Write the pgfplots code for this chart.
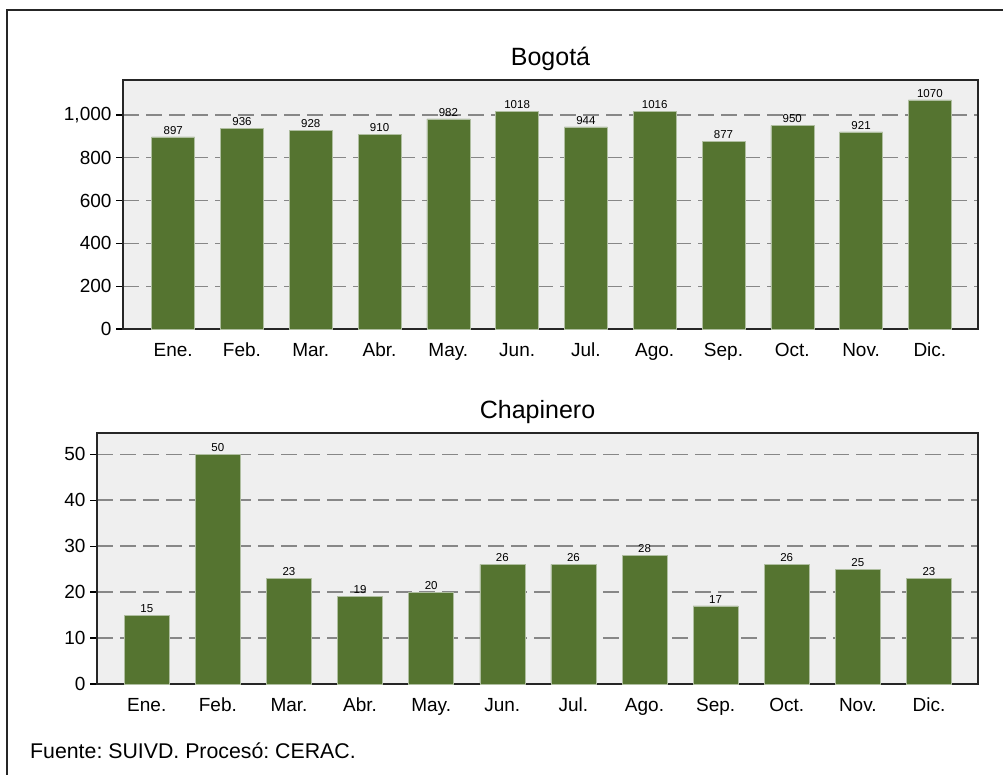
\documentclass[border=0pt]{standalone}
\usepackage{fontspec}
\setmainfont{Liberation Sans}
\usepackage{pgfplots}
\pgfplotsset{compat=1.18}
\definecolor{barg}{RGB}{85,116,48}
\definecolor{bgg}{RGB}{239,239,239}
\definecolor{gridg}{RGB}{135,135,135}
\pgfplotsset{
  myax/.style={
    scale only axis,
    /pgf/number format/assume math mode=true,
    axis background/.style={fill=bgg},
    axis line style={line width=1.2pt, black!85},
    ybar, bar width=#1,
    xtick=data,
    xticklabels={Ene.,Feb.,Mar.,Abr.,May.,Jun.,Jul.,Ago.,Sep.,Oct.,Nov.,Dic.},
    xtick style={draw=none},
    ytick pos=left,
    tick align=outside,
    major tick length=7pt,
    ytick style={line width=1.2pt, black},
    ymajorgrids,
    major grid style={gridg, line width=1.3pt, dash pattern=on 16pt off 7pt},
    tick label style={font=\fontsize{19}{22}\selectfont},
    xticklabel style={text height=14pt, text depth=4pt, yshift=-3pt},
    yticklabel style={xshift=-1pt},
    title style={at={(0.5,1)}, anchor=base, yshift=9pt, font=\fontsize{25}{28}\selectfont},
    nodes near coords={\pgfmathprintnumber[1000 sep={}]{\pgfplotspointmeta}},
    every node near coord/.append style={font=\fontsize{11.5}{13}\selectfont, black, yshift=-1pt},
    /pgf/number format/1000 sep={,},
  }
}
\begin{document}
\frenchspacing
\begin{tikzpicture}
\useasboundingbox (0pt,0pt) rectangle (1003pt,-774pt);
\draw[line width=1.2pt, black!85] (7pt,-790pt) -- (7pt,-10pt) -- (1020pt,-10pt);
\begin{axis}[myax=43pt,
  at={(123pt,-329pt)}, anchor=south west,
  width=855pt, height=249pt,
  xmin=-0.73, xmax=11.7, ymin=0, ymax=1163,
  ytick={0,200,400,600,800,1000},
  title={Bogotá}]
\addplot[fill=barg, draw={rgb,255:red,175;green,190;blue,160}, line width=0.5pt] coordinates {
(0,897) (1,936) (2,928) (3,910) (4,982) (5,1018) (6,944) (7,1016) (8,877) (9,950) (10,921) (11,1070)};
\end{axis}
\begin{axis}[myax=45pt,
  at={(97pt,-684pt)}, anchor=south west,
  width=881pt, height=251pt,
  xmin=-0.7, xmax=11.69, ymin=0, ymax=54.6,
  ytick={0,10,20,30,40,50},
  title={Chapinero}]
\addplot[fill=barg, draw={rgb,255:red,175;green,190;blue,160}, line width=0.5pt] coordinates {
(0,15) (1,50) (2,23) (3,19) (4,20) (5,26) (6,26) (7,28) (8,17) (9,26) (10,25) (11,23)};
\end{axis}
\node[anchor=base west, inner sep=0pt, font=\fontsize{21.3}{24}\selectfont] at (30pt,-758pt) {Fuente: SUIVD. Procesó: CERAC.};
\end{tikzpicture}
\end{document}
